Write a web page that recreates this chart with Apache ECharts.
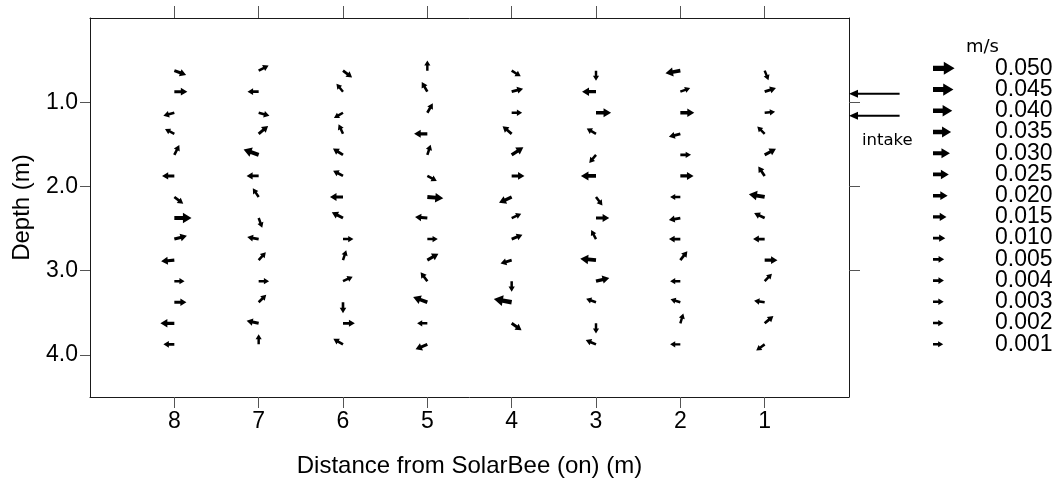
<!DOCTYPE html>
<html><head><meta charset="utf-8">
<script src="https://cdn.jsdelivr.net/npm/echarts@6/dist/echarts.min.js"></script>
<style>html,body{margin:0;padding:0;background:#fff}#c{width:1058px;height:481px}</style>
</head><body><div id="c"></div>
<script>
// ---- data ----
const distances = [8, 7, 6, 5, 4, 3, 2, 1];
const depths = [0.625, 0.875, 1.125, 1.375, 1.625, 1.875, 2.125, 2.375, 2.625, 2.875, 3.125, 3.375, 3.625, 3.875];
// direction in degrees (0 = right, 90 = up), speed in m/s
const angle8 = [-20, 0, 195, 153, 63, 180, -37, 0, 15, 185, 0, 0, 180, 180];
const speed8 = [0.011, 0.013, 0.006, 0.002, 0.004, 0.010, 0.005, 0.031, 0.013, 0.014, 0.001, 0.009, 0.017, 0.004];
const angle7 = [27, 180, -15, 40, 160, 180, 124, -70, 170, 48, 0, 45, 168, 90];
const speed7 = [0.005, 0.005, 0.005, 0.010, 0.026, 0.009, 0.002, 0.002, 0.007, 0.003, 0.002, 0.003, 0.010, 0.001];
const angle6 = [-37, 130, 210, 115, 148, 152, 180, 153, 0, 72, 25, -90, 0, 150];
const speed6 = [0.006, 0.001, 0.002, 0.002, 0.008, 0.005, 0.013, 0.011, 0.002, 0.002, 0.003, 0.004, 0.008, 0.005];
const angle5 = [90, 120, 60, 180, 72, -28, -5, 175, 0, 30, 127, 160, 180, 203];
const speed5 = [0.001, 0.005, 0.004, 0.014, 0.003, 0.003, 0.026, 0.010, 0.002, 0.012, 0.005, 0.022, 0.001, 0.012];
const angle4 = [-32, 15, 0, 140, 33, 0, 205, 24, 22, 197, -90, 170, -35, null];
const speed4 = [0.003, 0.008, 0.002, 0.008, 0.017, 0.012, 0.017, 0.002, 0.007, 0.007, 0.002, 0.035, 0.009, null];
const angle3 = [-90, 180, 0, 150, 230, 180, -53, 0, 118, 175, 14, 160, -90, 157];
const speed3 = [0.001, 0.017, 0.022, 0.003, 0.002, 0.022, 0.003, 0.014, 0.001, 0.025, 0.016, 0.002, 0.001, 0.005];
const angle2 = [190, 20, 0, 195, 0, 0, 180, 190, 180, 52, 180, 163, 73, 180];
const speed2 = [0.022, 0.002, 0.017, 0.008, 0.003, 0.014, 0.001, 0.007, 0.006, 0.006, 0.001, 0.001, 0.001, 0.001];
const angle1 = [-68, 18, 5, 135, 28, 124, 170, 155, 180, 0, 46, 172, 40, 216];
const speed1 = [0.001, 0.008, 0.002, 0.002, 0.012, 0.006, 0.026, 0.007, 0.007, 0.012, 0.002, 0.003, 0.006, 0.002];

const legendSpeeds = [0.050, 0.045, 0.040, 0.035, 0.030, 0.025, 0.020, 0.015, 0.010, 0.005, 0.004, 0.003, 0.002, 0.001];
const legendLabels = ['0.050', '0.045', '0.040', '0.035', '0.030', '0.025', '0.020', '0.015', '0.010', '0.005', '0.004', '0.003', '0.002', '0.001'];
const distanceTicks = [1, 2, 3, 4, 5, 6, 7, 8];
const depthTicks = [1, 2, 3, 4];
const rightDepthTicks = [1, 2, 3];
const intakeDepths = [0.9, 1.16];
const intakeFrom = -0.6;
const intakeTo = 0;

// ---- build ----
const columns = {8: [angle8, speed8], 7: [angle7, speed7], 6: [angle6, speed6], 5: [angle5, speed5],
                 4: [angle4, speed4], 3: [angle3, speed3], 2: [angle2, speed2], 1: [angle1, speed1]};
const arrowData = [];
distances.forEach(d => {
  const [ang, spd] = columns[d];
  depths.forEach((z, i) => {
    if (spd[i] != null) arrowData.push([d, z, ang[i], spd[i]]);
  });
});
const legendData = legendSpeeds.map((s, i) => [0, i, 0, s]);
const intakeData = intakeDepths.map(z => [intakeFrom, z, intakeTo]);

function arrowPoints(x0, y0, angDeg, len) {
  const a = angDeg * Math.PI / 180, c = Math.cos(a), s = -Math.sin(a);
  const w = 0.24 * len, hl = 0.5 * len, hw = 0.6 * len;
  const loc = [[0, -w / 2], [len - hl, -w / 2], [len - hl, -hw / 2], [len, 0], [len - hl, hw / 2], [len - hl, w / 2], [0, w / 2]];
  return loc.map(([u, v]) => [x0 + u * c - v * s, y0 + u * s + v * c]);
}
function renderArrow(params, api) {
  const p = api.coord([api.value(0), api.value(1)]);
  const len = 10 + 232 * api.value(3);
  return {type: 'polygon', shape: {points: arrowPoints(p[0], p[1], api.value(2), len)}, style: {fill: '#000'}};
}
function renderIntake(params, api) {
  const p1 = api.coord([api.value(0), api.value(1)]);
  const p2 = api.coord([api.value(2), api.value(1)]);
  const hl = 9, hw = 8;
  return {type: 'group', children: [
    {type: 'line', shape: {x1: p1[0], y1: p1[1], x2: p2[0] + hl - 1, y2: p2[1]}, style: {stroke: '#000', lineWidth: 2}},
    {type: 'polygon', shape: {points: [[p2[0], p2[1]], [p2[0] + hl, p2[1] - hw / 2], [p2[0] + hl, p2[1] + hw / 2]]}, style: {fill: '#000'}}
  ]};
}

const FONT = 'Liberation Sans';
const frameColor = '#1a1a1a', tickColor = '#555';
const chart = echarts.init(document.getElementById('c'), null, {renderer: 'canvas'});
chart.setOption({
  animation: false,
  backgroundColor: '#fff',
  textStyle: {fontFamily: FONT},
  grid: [
    {left: 90, right: 209, top: 18, bottom: 84, outerBoundsMode: 'none'},
    {left: 933, top: 57.7, width: 52, height: 297.2, outerBoundsMode: 'none'}
  ],
  xAxis: [
    {type: 'value', gridIndex: 0, min: 0, max: 9, inverse: true, position: 'bottom',
     axisLine: {show: true, onZero: false, lineStyle: {color: frameColor, width: 1}},
     axisTick: {show: true, customValues: distanceTicks, length: 11, lineStyle: {color: tickColor}},
     axisLabel: {customValues: distanceTicks, fontSize: 23, color: '#000', margin: 13, fontFamily: FONT},
     splitLine: {show: false},
     name: 'Distance from SolarBee (on) (m)', nameLocation: 'middle', nameGap: 57,
     nameTextStyle: {fontSize: 24, color: '#000', fontFamily: FONT}},
    {type: 'value', gridIndex: 0, min: 0, max: 9, inverse: true, position: 'top',
     axisLine: {show: true, onZero: false, lineStyle: {color: frameColor, width: 1}},
     axisTick: {show: true, customValues: distanceTicks, length: 12, lineStyle: {color: tickColor}},
     axisLabel: {show: false}, splitLine: {show: false}},
    {type: 'value', gridIndex: 1, min: 0, max: 1, show: false}
  ],
  yAxis: [
    {type: 'value', gridIndex: 0, min: 0, max: 4.5, inverse: true, position: 'left',
     axisLine: {show: true, onZero: false, lineStyle: {color: frameColor, width: 1}},
     axisTick: {show: true, customValues: depthTicks, length: 10, lineStyle: {color: tickColor}},
     axisLabel: {customValues: depthTicks, formatter: v => v.toFixed(1), fontSize: 23, color: '#000', margin: 12, fontFamily: FONT},
     splitLine: {show: false},
     name: 'Depth (m)', nameLocation: 'middle', nameGap: 56,
     nameTextStyle: {fontSize: 24, color: '#000', fontFamily: FONT}},
    {type: 'value', gridIndex: 0, min: 0, max: 4.5, inverse: true, position: 'right',
     axisLine: {show: true, onZero: false, lineStyle: {color: frameColor, width: 1}},
     axisTick: {show: true, customValues: rightDepthTicks, length: 11, lineStyle: {color: tickColor}},
     axisLabel: {show: false}, splitLine: {show: false}},
    {type: 'category', gridIndex: 1, data: legendLabels, inverse: true, position: 'right',
     axisLine: {show: false}, axisTick: {show: false}, splitLine: {show: false},
     axisLabel: {interval: 0, fontSize: 23, lineHeight: 21, color: '#000', margin: 10, align: 'left', fontFamily: FONT, hideOverlap: false}}
  ],
  graphic: [
    {type: 'text', left: 966, top: 38, style: {text: 'm/s', fontSize: 18, fill: '#000', fontFamily: 'DejaVu Sans'}},
    {type: 'text', left: 862, top: 132, style: {text: 'intake', fontSize: 16.5, fill: '#000', fontFamily: 'DejaVu Sans'}}
  ],
  series: [
    {type: 'custom', xAxisIndex: 0, yAxisIndex: 0, data: arrowData, renderItem: renderArrow, encode: {x: 0, y: 1}, clip: false, silent: true},
    {type: 'custom', xAxisIndex: 0, yAxisIndex: 0, data: intakeData, renderItem: renderIntake, encode: {x: [0, 2], y: 1}, clip: false, silent: true},
    {type: 'custom', xAxisIndex: 2, yAxisIndex: 2, data: legendData, renderItem: renderArrow, encode: {x: 0, y: 1}, clip: false, silent: true}
  ]
});
</script>
</body></html>
